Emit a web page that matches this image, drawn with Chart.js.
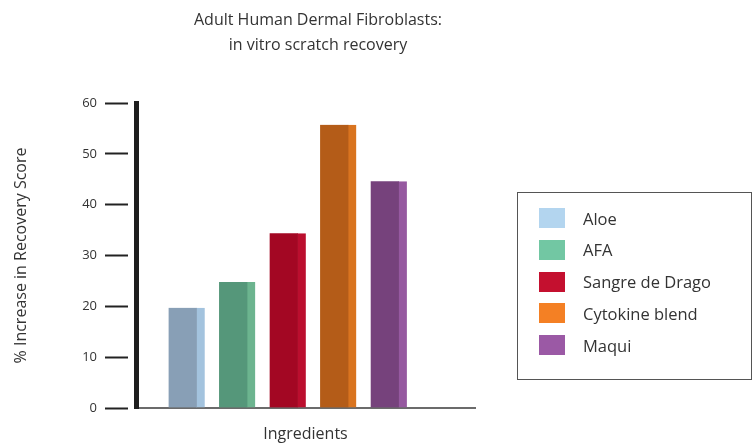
<!DOCTYPE html>
<html>
<head>
<meta charset="utf-8">
<script src="https://cdn.jsdelivr.net/npm/chart.js@4.4.1/dist/chart.umd.min.js"></script>
<style>
  body { margin: 0; background: #fff; font-family: 'Open Sans', sans-serif; color: #333; }
  #wrap { position: relative; width: 756px; height: 446px; }
  #chart { position: absolute; left: 0; top: 0; }
  #title { position: absolute; left: 118px; width: 400px; top: 7px; text-align: center; font-size: 16px; line-height: 25px; }
  #legend { position: absolute; left: 517px; top: 192px; width: 235px; height: 188px; border: 1px solid #555; box-sizing: border-box; }
  .item { position: absolute; left: 21px; height: 20px; display: flex; align-items: center; font-size: 16.5px; white-space: nowrap; }
  .sw { width: 26px; height: 20px; margin-right: 18px; }
</style>
</head>
<body>
<div id="wrap">
  <canvas id="chart" width="756" height="446"></canvas>
  <div id="title">Adult Human Dermal Fibroblasts:<br>in vitro scratch recovery</div>
  <div id="legend"></div>
</div>
<script>
// data
const ingredients = ['Aloe', 'AFA', 'Sangre de Drago', 'Cytokine blend', 'Maqui'];
const recovery = [19.7, 24.8, 34.4, 55.7, 44.6];
const yTicks = [0, 10, 20, 30, 40, 50, 60];

// front face / side face / legend swatch
const frontColors = ['#889fb6', '#55977a', '#a30723', '#b45c18', '#76427c'];
const sideColors = ['#a3c3de', '#6cb48f', '#bb0e2e', '#d9741f', '#9659a0'];
const legendColors = ['#b3d5ef', '#72c7a3', '#c4102f', '#f48024', '#9b59a5'];

// html legend box
const legendEl = document.getElementById('legend');
ingredients.forEach((name, i) => {
    const row = document.createElement('div');
    row.className = 'item';
    row.style.top = (15 + i * 31.8) + 'px';
    row.innerHTML = '<span class="sw" style="background:' + legendColors[i] + '"></span>' + name;
    legendEl.appendChild(row);
});

Chart.defaults.font.family = "'Open Sans', sans-serif";
Chart.defaults.color = '#333';

new Chart(document.getElementById('chart'), {
    type: 'bar',
    data: {
        datasets: [{
            data: ingredients.map((name, i) => ({ x: i + 1, y: recovery[i] })),
            backgroundColor: frontColors,
            borderColor: sideColors,
            borderWidth: { top: 0, right: 8, bottom: 0, left: 0 },
            borderSkipped: false,
            barThickness: 36
        }]
    },
    options: {
        responsive: false,
        animation: false,
        layout: { padding: { left: 8, top: 103, right: 281, bottom: 0 } },
        plugins: {
            legend: { display: false },
            tooltip: { enabled: false }
        },
        scales: {
            x: {
                type: 'linear',
                min: 0,
                max: 6.71,
                offset: false,
                ticks: { display: false },
                grid: { display: false, offset: false },
                border: { color: '#6b6b6b', width: 2 },
                title: { display: true, text: 'Ingredients', font: { size: 16 }, color: '#333', padding: { top: 0, bottom: 2 } },
                afterFit: scale => { scale.height = 38; }
            },
            y: {
                min: 0,
                max: 60,
                afterBuildTicks: scale => { scale.ticks = yTicks.map(v => ({ value: v })); },
                ticks: { font: { size: 13 }, color: '#333', padding: 8 },
                grid: {
                    drawOnChartArea: false,
                    drawTicks: true,
                    tickLength: 31,
                    tickWidth: 2,
                    tickColor: '#222',
                    tickBorderDash: [23, 100]
                },
                border: { color: '#1e1e1e', width: 5 },
                title: { display: true, text: '% Increase in Recovery Score', font: { size: 16 }, color: '#333' },
                afterFit: scale => { scale.width = 128; }
            }
        }
    }
});
</script>
</body>
</html>
